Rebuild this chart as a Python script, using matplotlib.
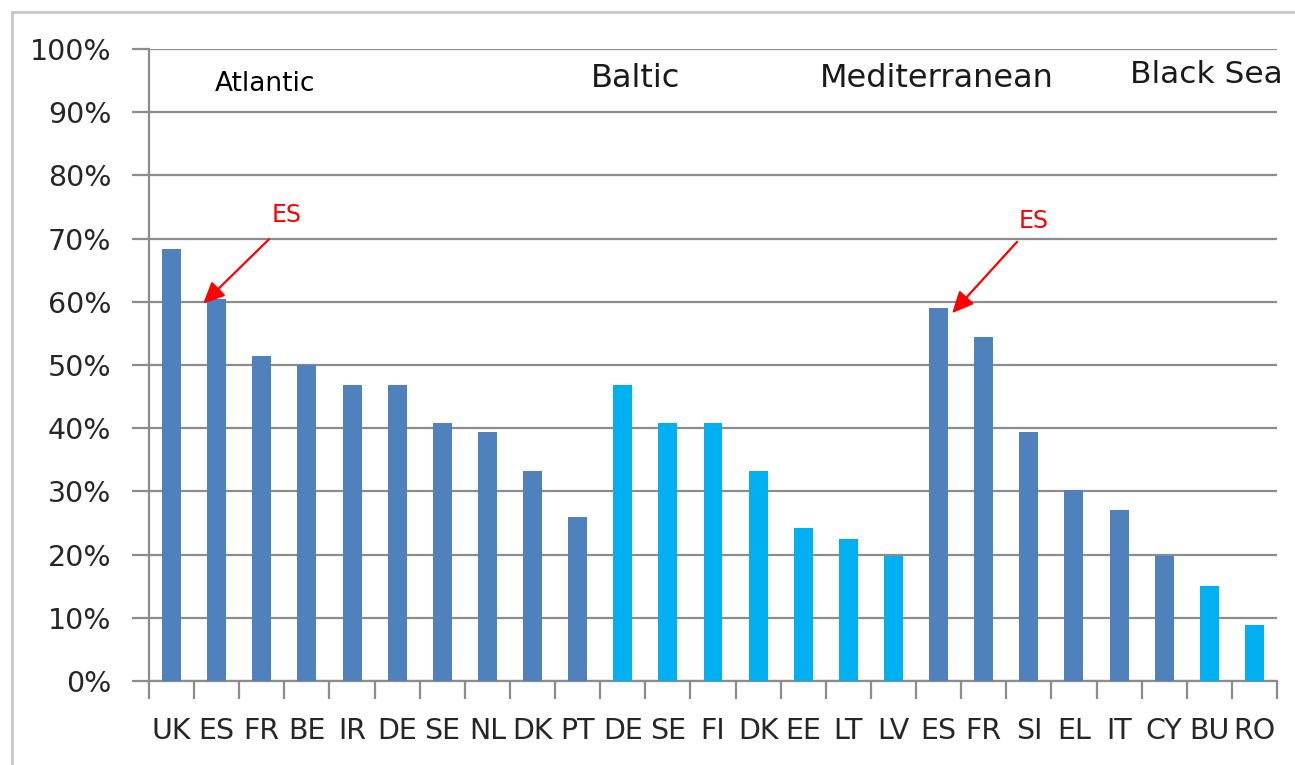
import matplotlib
matplotlib.use("Agg")
import matplotlib.pyplot as plt
from matplotlib.lines import Line2D
from matplotlib.ticker import FixedLocator, PercentFormatter

categories = ["UK", "ES", "FR", "BE", "IR", "DE", "SE", "NL", "DK", "PT",
              "DE", "SE", "FI", "DK", "EE", "LT", "LV",
              "ES", "FR", "SI", "EL", "IT", "CY",
              "BU", "RO"]
values = [68.3, 60.5, 51.4, 50.0, 46.9, 46.9, 40.8, 39.4, 33.3, 26.0,
          46.9, 40.8, 40.8, 33.2, 24.2, 22.5, 19.7,
          59.0, 54.5, 39.4, 30.3, 27.1, 19.7,
          15.1, 8.9]
regions = ["Atlantic", "Baltic", "Mediterranean", "Black Sea"]
region_sizes = [10, 7, 6, 2]
region_colors = ["#4f81bd", "#00b0f0", "#4f81bd", "#00b0f0"]
highlight_index = [1, 17]
highlight_label = "ES"

colors = []
for c, n in zip(region_colors, region_sizes):
    colors += [c] * n

W, H = 1295, 765
fig = plt.figure(figsize=(W / 100, H / 100), dpi=100)
fig.patch.set_facecolor("white")
ax = fig.add_axes([149 / W, 1 - 681 / H, (1277 - 149) / W, (681 - 49) / H])

x = list(range(len(categories)))
ax.bar(x, values, width=0.42, color=colors, zorder=3)

ax.set_xlim(-0.5, len(categories) - 0.5)
ax.set_ylim(0, 100)

grid_c = "#8c8c8c"
ax.yaxis.set_major_locator(FixedLocator(range(0, 101, 10)))
ax.yaxis.set_major_formatter(PercentFormatter(decimals=0))
ax.yaxis.grid(True, color=grid_c, lw=1.6, zorder=1)
ax.set_axisbelow(True)

ax.set_xticks(x)
ax.set_xticklabels(categories)
ax.set_xticks([i + 0.5 for i in range(-1, len(categories))], minor=True)
ax.tick_params(axis="x", which="major", length=0, pad=26,
               labelsize=20.5, labelcolor="#262626")
ax.tick_params(axis="x", which="minor", length=13, width=1.6,
               color=grid_c, direction="out")
ax.tick_params(axis="y", which="major", length=12, width=1.6,
               color=grid_c, direction="out", pad=15,
               labelsize=20.5, labelcolor="#262626")

for s in ["top", "right"]:
    ax.spines[s].set_visible(False)
for s in ["left", "bottom"]:
    ax.spines[s].set_color(grid_c)
    ax.spines[s].set_linewidth(1.6)

# region labels
region_pos = [(2.07, 94.5, 19), (10.29, 95.4, 23), (16.96, 95.4, 23), (22.93, 95.9, 22.5)]
for name, (px, py, fs) in zip(regions, region_pos):
    ax.text(px, py, name, ha="center", va="center", fontsize=fs,
            color="black" if name == "Atlantic" else "#1a1a1a", zorder=5)

# ES annotations
text_pos = [(2.54, 73.7), (19.11, 72.8)]
arrow_start = [(2.16, 69.9), (18.74, 69.5)]
tip_dx = [-0.30, 0.30]
for idx, (tx, ty), (sx, sy), dx in zip(highlight_index, text_pos, arrow_start, tip_dx):
    ax.annotate("", xy=(idx + dx, values[idx] - 0.8), xytext=(sx, sy),
                arrowprops=dict(arrowstyle="-|>,head_length=1.3,head_width=0.6",
                                color="#ff0000", lw=1.6, shrinkA=0, shrinkB=0),
                zorder=6)
    ax.text(tx, ty, highlight_label, ha="center", va="center", fontsize=17,
            color="#ff0000", zorder=6)

# figure border
border_c = "#c8c8c8"
fig.add_artist(Line2D([12 / W, 12 / W], [0, 1 - 12 / H], transform=fig.transFigure,
                      color=border_c, lw=2))
fig.add_artist(Line2D([12 / W, 1], [1 - 12 / H, 1 - 12 / H], transform=fig.transFigure,
                      color=border_c, lw=2))

fig.savefig("out.png", dpi=100)
